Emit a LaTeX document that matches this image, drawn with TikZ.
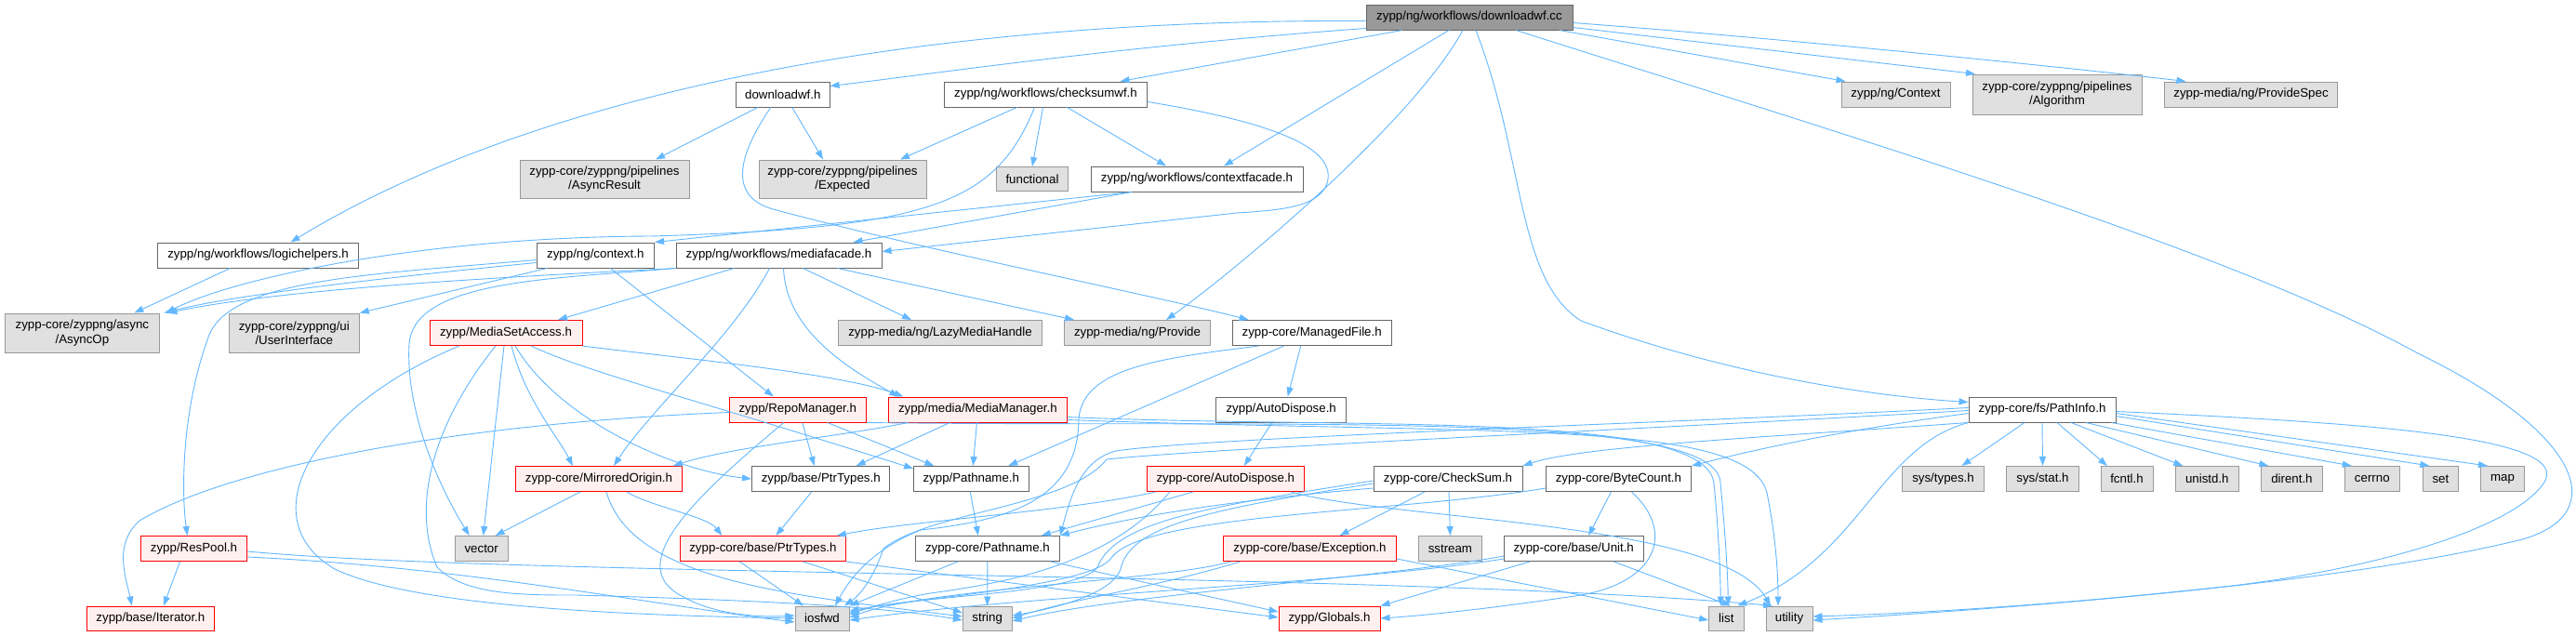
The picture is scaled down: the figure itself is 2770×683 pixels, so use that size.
\documentclass[tikz,border=0pt]{standalone}
\usepackage{fontspec}
\setmainfont{Liberation Sans}
\usetikzlibrary{arrows.meta}
\definecolor{edgec}{HTML}{63B8FF}
\definecolor{grayfill}{HTML}{E0E0E0}
\definecolor{grayline}{HTML}{999999}
\definecolor{darkline}{HTML}{666666}
\definecolor{rootfill}{HTML}{999999}
\definecolor{redfill}{HTML}{FFF0F0}
\definecolor{redline}{HTML}{FF0000}
\begin{document}
\begin{tikzpicture}[x=1pt,y=-1pt,
  basebox/.style={rectangle, inner sep=0pt, minimum height=27pt, font=\fontsize{13.3}{15.5}\selectfont, align=center, line width=1pt},
  wbox/.style={basebox, draw=darkline, fill=white},
  gbox/.style={basebox, draw=grayline, fill=grayfill},
  rbox/.style={basebox, draw=redline, fill=redfill},
  rootbox/.style={basebox, draw=darkline, fill=rootfill},
  dep/.style={draw=edgec, line width=0.9pt, -{Triangle[length=10pt,width=7pt]}},
]
\useasboundingbox (0,0) rectangle (2770,683);
\fill[white] (0,0) rectangle (2770,683);

% ---------- nodes ----------
\node[rootbox, minimum width=222pt] (root) at (1580,18.5) {zypp/ng/workflows/downloadwf.cc};

\node[wbox, minimum width=100.5pt] (dlh) at (841.8,101.5) {downloadwf.h};
\node[wbox, minimum width=218pt] (ckwf) at (1124.5,101.5) {zypp/ng/workflows/checksumwf.h};
\node[gbox, minimum width=117pt] (ngctx) at (2038.5,101.5) {zypp/ng/Context};
\node[gbox, minimum width=182pt, minimum height=43pt] (algo) at (2212,101.5) {zypp-core/zyppng/pipelines\\/Algorithm};
\node[gbox, minimum width=186pt] (pspec) at (2420.5,101.5) {zypp-media/ng/ProvideSpec};

\node[gbox, minimum width=182pt, minimum height=41pt] (ares) at (650,192.5) {zypp-core/zyppng/pipelines\\/AsyncResult};
\node[gbox, minimum width=180pt, minimum height=41pt] (expd) at (906,192.5) {zypp-core/zyppng/pipelines\\/Expected};
\node[gbox, minimum width=77pt, minimum height=26pt] (func) at (1110,192.5) {functional};
\node[wbox, minimum width=228pt] (cfac) at (1287,192.5) {zypp/ng/workflows/contextfacade.h};

\node[wbox, minimum width=216pt] (logic) at (277.5,274.5) {zypp/ng/workflows/logichelpers.h};
\node[wbox, minimum width=126.6pt] (ctxh) at (640.3,274.5) {zypp/ng/context.h};
\node[wbox, minimum width=221pt] (mfac) at (837.5,274.5) {zypp/ng/workflows/mediafacade.h};

\node[gbox, minimum width=166pt, minimum height=42pt] (aop) at (88.4,358) {zypp-core/zyppng/async\\/AsyncOp};
\node[gbox, minimum width=140pt, minimum height=42pt] (ui) at (316.3,358) {zypp-core/zyppng/ui\\/UserInterface};
\node[rbox, minimum width=164pt] (msa) at (544,358) {zypp/MediaSetAccess.h};
\node[gbox, minimum width=219pt] (lazy) at (1011,358) {zypp-media/ng/LazyMediaHandle};
\node[gbox, minimum width=157pt] (prov) at (1223,358) {zypp-media/ng/Provide};
\node[wbox, minimum width=171.4pt] (mfile) at (1410.7,358) {zypp-core/ManagedFile.h};

\node[rbox, minimum width=147pt] (repo) at (857.8,440.5) {zypp/RepoManager.h};
\node[rbox, minimum width=192pt] (mman) at (1051.4,440.5) {zypp/media/MediaManager.h};
\node[wbox, minimum width=140pt] (adz) at (1377.7,440.5) {zypp/AutoDispose.h};
\node[wbox, minimum width=158pt] (pinfo) at (2196,440.5) {zypp-core/fs/PathInfo.h};

\node[rbox, minimum width=178.5pt] (mirr) at (644,515) {zypp-core/MirroredOrigin.h};
\node[wbox, minimum width=148.5pt] (bptr) at (882.7,515) {zypp/base/PtrTypes.h};
\node[wbox, minimum width=123.4pt] (pathh) at (1044.3,515) {zypp/Pathname.h};
\node[rbox, minimum width=168.7pt] (adc) at (1317.8,515) {zypp-core/AutoDispose.h};
\node[wbox, minimum width=160pt] (cksum) at (1557,515) {zypp-core/CheckSum.h};
\node[wbox, minimum width=156pt] (bcount) at (1740.4,515) {zypp-core/ByteCount.h};
\node[gbox, minimum width=88pt] (stypes) at (2089.5,515) {sys/types.h};
\node[gbox, minimum width=78pt] (sstat) at (2196.5,515) {sys/stat.h};
\node[gbox, minimum width=56pt] (fcntl) at (2287,515) {fcntl.h};
\node[gbox, minimum width=67.4pt] (unistd) at (2373.3,515) {unistd.h};
\node[gbox, minimum width=65.6pt] (dirent) at (2464.4,515) {dirent.h};
\node[gbox, minimum width=59pt] (cerrno) at (2550.8,515) {cerrno};
\node[gbox, minimum width=38.4pt] (nset) at (2624.4,515) {set};
\node[gbox, minimum width=47.3pt] (nmap) at (2691,515) {map};

\node[rbox, minimum width=114.3pt] (respool) at (208.5,590) {zypp/ResPool.h};
\node[gbox, minimum width=56.7pt] (vect) at (517.7,590) {vector};
\node[rbox, minimum width=178pt] (cptr) at (820.4,590) {zypp-core/base/PtrTypes.h};
\node[wbox, minimum width=155pt] (cpath) at (1061.9,590) {zypp-core/Pathname.h};
\node[rbox, minimum width=185.7pt] (exc) at (1408.5,590) {zypp-core/base/Exception.h};
\node[gbox, minimum width=68pt] (sstr) at (1559.4,590) {sstream};
\node[wbox, minimum width=149.6pt] (unit) at (1692.2,590) {zypp-core/base/Unit.h};

\node[rbox, minimum width=137pt, minimum height=26pt] (iter) at (161.9,665) {zypp/base/Iterator.h};
\node[gbox, minimum width=58pt, minimum height=26pt] (iosfwd) at (884,665) {iosfwd};
\node[gbox, minimum width=52.7pt, minimum height=26pt] (str) at (1061.7,665) {string};
\node[rbox, minimum width=109pt, minimum height=26pt] (glob) at (1429.5,665) {zypp/Globals.h};
\node[gbox, minimum width=37.5pt, minimum height=26pt] (lst) at (1856.3,665) {list};
\node[gbox, minimum width=50pt, minimum height=26pt] (util) at (1924,665) {utility};

% ---------- edges ----------
% root
\draw[dep] ([yshift=-4pt]root.west) .. controls (950,20) and (560,110) .. ([xshift=35pt]logic.north);
\draw[dep] ([yshift=-12pt]root.west) .. controls (1200,50) and (1000,80) .. ([yshift=9pt]dlh.east);
\draw[dep] ([xshift=-72pt]root.south) -- ([xshift=80pt]ckwf.north);
\draw[dep] ([xshift=-22pt]root.south) -- ([xshift=29pt]cfac.north);
\draw[dep] ([xshift=-7pt]root.south) .. controls (1520,130) and (1330,290) .. ([xshift=31pt]prov.north);
\draw[dep] ([xshift=7pt]root.south) .. controls (1640,170) and (1630,300) .. (1700,345) .. controls (1850,400) and (2000,425) .. ([yshift=8pt]pinfo.west);
\draw[dep] ([xshift=97pt]root.south) -- ([xshift=-54pt]ngctx.north);
\draw[dep] ([yshift=-11pt]root.east) -- ([xshift=-88pt]algo.north);
\draw[dep] ([yshift=-6pt]root.east) .. controls (1900,40) and (2200,70) .. ([xshift=-70pt]pspec.north);
\draw[dep] ([xshift=50pt]root.south) .. controls (2000,150) and (2400,270) .. (2600,380) .. controls (2785,470) and (2810,560) .. (2700,583) .. controls (2500,630) and (2150,655) .. ([yshift=-2pt]util.east);

% downloadwf.h
\draw[dep] ([xshift=-27pt]dlh.south) -- ([xshift=55pt]ares.north);
\draw[dep] ([xshift=10pt]dlh.south) -- ([xshift=-21pt]expd.north);
\draw[dep] ([xshift=-13pt]dlh.south) .. controls (785,180) and (790,215) .. (835,226) .. controls (1000,270) and (1250,320) .. ([xshift=-68pt]mfile.north);

% checksumwf.h
\draw[dep] ([xshift=-31pt]ckwf.south) -- ([xshift=62pt]expd.north);
\draw[dep] ([xshift=-3pt]ckwf.south) -- (func.north);
\draw[dep] ([xshift=23pt]ckwf.south) -- ([xshift=-33pt]cfac.north);
\draw[dep] ([yshift=-8pt]ckwf.east) .. controls (1390,135) and (1440,165) .. (1426,200) .. controls (1415,222) and (1380,226) .. (1330,229) -- ([yshift=4pt]mfac.east);
\draw[dep] ([xshift=-12pt]ckwf.south) .. controls (1070,220) and (1000,245) .. (700,254) .. controls (450,255) and (250,300) .. ([xshift=90pt]aop.north);

% contextfacade.h
\draw[dep] ([xshift=-70pt]cfac.south) -- (ctxh.north east);
\draw[dep] ([xshift=-70pt]cfac.south) -- ([xshift=80pt]mfac.north);

% logichelpers.h
\draw[dep] ([xshift=-30pt]logic.south) -- ([xshift=56pt]aop.north);

% context.h
\draw[dep] ([yshift=-8pt]ctxh.west) .. controls (450,295) and (260,315) .. ([xshift=88pt]aop.north);
\draw[dep] ([xshift=-52pt]ctxh.south) -- (ui.north east);
\draw[dep] ([yshift=-5pt]ctxh.west) .. controls (400,295) and (250,300) .. (225,360) .. controls (195,440) and (195,530) .. ([xshift=-7pt]respool.north);
\draw[dep] ([xshift=16pt]ctxh.south) -- ([xshift=-26pt]repo.north);

% mediafacade.h
\draw[dep] (mfac.south west) .. controls (500,300) and (300,312) .. ([xshift=92pt]aop.north);
\draw[dep] (mfac.south west) .. controls (600,300) and (445,300) .. (440,370) .. controls (436,440) and (470,520) .. ([xshift=-13pt]vect.north);
\draw[dep] ([xshift=-48pt]mfac.south) -- ([xshift=56pt]msa.north);
\draw[dep] ([xshift=-10pt]mfac.south) .. controls (790,360) and (700,440) .. ([xshift=16pt]mirr.north);
\draw[dep] ([xshift=5pt]mfac.south) .. controls (845,350) and (900,390) .. ([xshift=-85pt]mman.north);
\draw[dep] ([xshift=26pt]mfac.south) -- ([xshift=-31pt]lazy.north);
\draw[dep] ([xshift=63pt]mfac.south) -- ([xshift=-68pt]prov.north);

% MediaSetAccess.h
\draw[dep] ([xshift=-50pt]msa.south) .. controls (330,440) and (270,560) .. (360,612) .. controls (450,655) and (700,662) .. (iosfwd.west);
\draw[dep] ([xshift=-11pt]msa.south) .. controls (470,450) and (440,540) .. (470,610) .. controls (500,640) and (560,640) .. (620,640) .. controls (800,645) and (950,652) .. ([yshift=-2pt]str.west);
\draw[dep] ([xshift=-2pt]msa.south) -- ([xshift=2pt]vect.north);
\draw[dep] ([xshift=6pt]msa.south) .. controls (565,430) and (600,470) .. ([xshift=-28pt]mirr.north);
\draw[dep] ([xshift=10pt]msa.south) .. controls (600,450) and (720,505) .. (bptr.west);
\draw[dep] ([xshift=27pt]msa.south) .. controls (630,400) and (750,430) .. ([yshift=-3pt]pathh.north west);
\draw[dep] (msa.south east) .. controls (700,382) and (900,400) .. ([xshift=-80pt]mman.north);

% RepoManager.h
\draw[dep] ([yshift=-3pt]repo.west) .. controls (500,455) and (250,500) .. (150,560) .. controls (122,585) and (135,620) .. ([xshift=-20pt]iter.north);
\draw[dep] ([xshift=-15pt]repo.south) .. controls (740,540) and (670,610) .. (735,642) .. controls (770,662) and (820,664) .. ([yshift=3pt]iosfwd.west);
\draw[dep] ([xshift=5pt]repo.south) -- ([xshift=-7pt]bptr.north);
\draw[dep] ([xshift=32pt]repo.south) -- ([xshift=-40pt]pathh.north);
\draw[dep] (repo.south east) .. controls (1400,460) and (1850,440) .. (1850,520) .. controls (1855,570) and (1858,620) .. ([xshift=2pt]lst.north);

% MediaManager.h
\draw[dep] ([xshift=-30pt]mman.south) -- ([xshift=38pt]bptr.north);
\draw[dep] ([xshift=-1pt]mman.south) -- ([xshift=2pt]pathh.north);
\draw[dep] ([xshift=-75pt]mman.south) .. controls (900,470) and (790,480) .. ([xshift=-10pt]mirr.north east);
\draw[dep] ([yshift=-8pt]mman.east) .. controls (1450,462) and (1835,440) .. (1843,520) .. controls (1848,570) and (1850,620) .. ([xshift=-6pt]lst.north);
\draw[dep] ([yshift=-11pt]mman.east) .. controls (1600,468) and (1880,450) .. (1900,530) .. controls (1910,580) and (1912,620) .. ([xshift=-12pt]util.north);

% ManagedFile.h
\draw[dep] ([xshift=-12pt]mfile.south) -- ([xshift=7pt]adz.north);
\draw[dep] ([xshift=-30pt]mfile.south) -- ([xshift=40pt]pathh.north);
\draw[dep] ([xshift=-57pt]mfile.south) .. controls (1250,385) and (1165,395) .. (1160,450) .. controls (1160,540) and (1080,560) .. (990,570) .. controls (940,590) and (915,620) .. ([xshift=14pt]iosfwd.north);

% AutoDispose
\draw[dep] ([xshift=-10pt]adz.south) -- ([xshift=20pt]adc.north);
\draw[dep] ([xshift=-60pt]adc.south) .. controls (1200,600) and (1100,625) .. (1000,638) .. controls (960,645) and (930,655) .. ([yshift=4pt]iosfwd.east);
\draw[dep] ([xshift=-75pt]adc.south) .. controls (1150,550) and (980,560) .. ([xshift=-10pt]cptr.north east);
\draw[dep] ([xshift=-35pt]adc.south) -- ([xshift=58pt]cpath.north);
\draw[dep] ([xshift=70pt]adc.south) .. controls (1500,560) and (1850,560) .. ([xshift=-20pt]util.north);

% zypp/base/PtrTypes.h, zypp/Pathname.h
\draw[dep] ([xshift=-10pt]bptr.south) -- ([xshift=14pt]cptr.north);
\draw[dep] ([xshift=-1pt]pathh.south) -- ([xshift=-10pt]cpath.north);

% MirroredOrigin.h
\draw[dep] ([xshift=-20pt]mirr.south) -- ([xshift=15pt]vect.north);
\draw[dep] ([xshift=30pt]mirr.south) .. controls (700,545) and (760,555) .. ([xshift=-44pt]cptr.north);
\draw[dep] ([xshift=8pt]mirr.south) .. controls (680,625) and (850,640) .. ([yshift=2pt]str.west);

% ResPool.h
\draw[dep] ([xshift=-15pt]respool.south) -- ([xshift=14pt]iter.north);
\draw[dep] ([yshift=-9pt]respool.east) .. controls (500,610) and (700,650) .. ([yshift=-4pt]iosfwd.west);
\draw[dep] ([yshift=-3pt]respool.east) .. controls (550,620) and (1500,615) .. ([xshift=-18pt]util.north);

% zypp-core/base/PtrTypes.h
\draw[dep] ([xshift=-25pt]cptr.south) -- ([xshift=-20pt]iosfwd.north);
\draw[dep] ([xshift=43pt]cptr.south) -- ([yshift=6pt]str.west);
\draw[dep] (cptr.south east) -- ([yshift=1pt]glob.west);

% zypp-core/Pathname.h
\draw[dep] ([xshift=-32pt]cpath.south) -- (iosfwd.north east);
\draw[dep] (cpath.south) -- (str.north);
\draw[dep] ([xshift=68pt]cpath.south) -- ([yshift=7pt]glob.west);

% Exception.h
\draw[dep] ([xshift=-85pt]exc.south) .. controls (1250,625) and (1000,632) .. ([yshift=1pt]iosfwd.east);
\draw[dep] ([xshift=-75pt]exc.south) .. controls (1250,630) and (1150,645) .. (str.east);
\draw[dep] ([yshift=-11pt]exc.east) -- ([yshift=-2pt]lst.west);

% CheckSum.h
\draw[dep] ([xshift=-25pt]cksum.south) -- ([xshift=32pt]exc.north);
\draw[dep] ([xshift=1pt]cksum.south) -- (sstr.north);
\draw[dep] ([yshift=-10pt]cksum.west) .. controls (1300,540) and (1200,560) .. (cpath.north east);
\draw[dep] ([yshift=-2pt]cksum.west) .. controls (1300,545) and (1200,560) .. (1180,610) .. controls (1160,640) and (980,640) .. ([yshift=6pt]iosfwd.east);
\draw[dep] ([yshift=-5pt]cksum.west) .. controls (1300,548) and (1215,565) .. (1205,612) .. controls (1195,640) and (1130,655) .. ([yshift=3pt]str.east);

% ByteCount.h
\draw[dep] ([xshift=-8pt]bcount.south) -- ([xshift=16pt]unit.north);
\draw[dep] ([xshift=14pt]bcount.south) .. controls (1800,570) and (1785,625) .. (1700,640) .. controls (1600,655) and (1530,662) .. (glob.east);
\draw[dep] ([yshift=-10pt]bcount.west) .. controls (1500,552) and (1230,552) .. (1195,600) .. controls (1175,630) and (990,643) .. ([yshift=8pt]iosfwd.east);

% Unit.h
\draw[dep] ([xshift=-47pt]unit.south) -- (glob.north east);
\draw[dep] ([xshift=43pt]unit.south) -- ([xshift=5pt]lst.north);
\draw[dep] ([yshift=-8pt]unit.west) .. controls (1500,620) and (1200,640) .. ([yshift=-3pt]str.east);
\draw[dep] ([yshift=-11pt]unit.west) .. controls (1450,628) and (1100,640) .. ([yshift=-2pt]iosfwd.east);

% PathInfo.h
\draw[dep] (pinfo.south west) .. controls (1900,470) and (1700,480) .. (cksum.north east);
\draw[dep] ([yshift=-4pt]pinfo.west) .. controls (2000,460) and (1900,480) .. (bcount.north east);
\draw[dep] ([yshift=2pt]pinfo.west) .. controls (1800,455) and (1300,470) .. (1200,485) .. controls (1160,495) and (1150,540) .. (cpath.north east);
\draw[dep] ([yshift=-1pt]pinfo.west) .. controls (1800,460) and (1300,482) .. (1190,494) .. controls (1150,545) and (1000,550) .. (950,590) .. controls (940,620) and (925,640) .. ([xshift=24pt]iosfwd.north);
\draw[dep] ([xshift=-19pt]pinfo.south) -- ([xshift=20pt]stypes.north);
\draw[dep] (pinfo.south) -- (sstat.north);
\draw[dep] ([xshift=16pt]pinfo.south) -- ([xshift=-21pt]fcntl.north);
\draw[dep] ([xshift=31pt]pinfo.south) -- ([xshift=-26pt]unistd.north);
\draw[dep] ([xshift=47pt]pinfo.south) -- ([xshift=-25pt]dirent.north);
\draw[dep] ([xshift=-5pt]pinfo.south east) -- ([xshift=-22pt]cerrno.north);
\draw[dep] ([yshift=-7pt]pinfo.east) -- ([xshift=-12pt]nset.north);
\draw[dep] ([yshift=-4pt]pinfo.east) -- ([xshift=-16pt]nmap.north);
\draw[dep] (pinfo.south west) .. controls (2020,480) and (2000,600) .. ([xshift=12pt]lst.north);
\draw[dep] ([yshift=-2pt]pinfo.east) .. controls (2550,455) and (2770,470) .. (2735,520) .. controls (2700,570) and (2550,612) .. (2400,630) .. controls (2200,652) and (2050,660) .. ([yshift=2pt]util.east);

\end{tikzpicture}
\end{document}
